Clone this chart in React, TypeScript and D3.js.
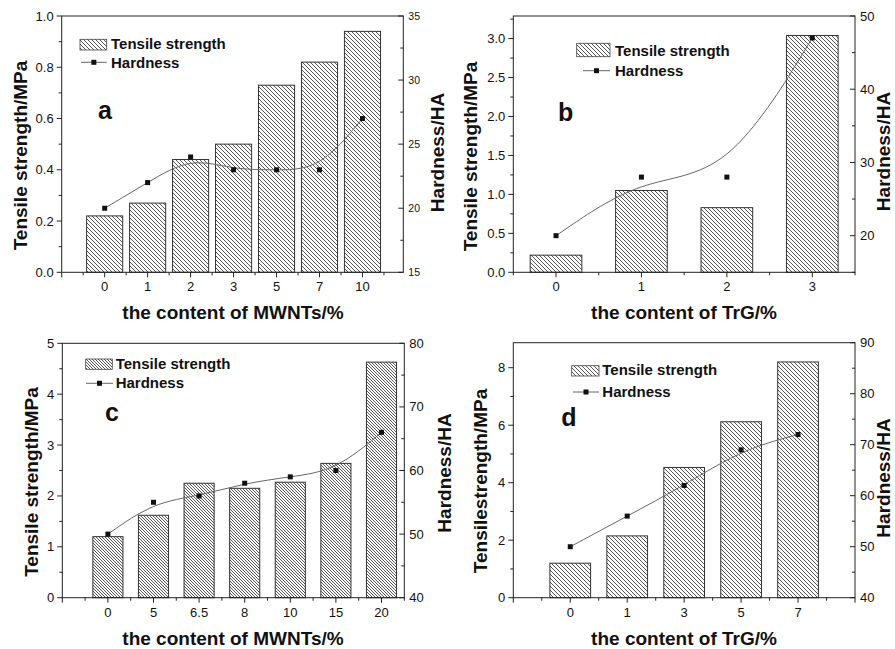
import React from "react";
import * as d3 from "d3";

// ---------------- data ----------------
const catsA = ["0", "1", "2", "3", "5", "7", "10"];
const tensileA = [0.22, 0.27, 0.44, 0.5, 0.73, 0.82, 0.94];
const hardnessA = [20, 22, 24, 23, 23, 23, 27];
const leftTicksA = [0, 0.2, 0.4, 0.6, 0.8, 1.0];
const rightTicksA = [15, 20, 25, 30, 35];

const catsB = ["0", "1", "2", "3"];
const tensileB = [0.22, 1.05, 0.83, 3.04];
const hardnessB = [20, 28, 28, 47];
const leftTicksB = [0, 0.5, 1.0, 1.5, 2.0, 2.5, 3.0];
const rightTicksB = [20, 30, 40, 50];

const catsC = ["0", "5", "6.5", "8", "10", "15", "20"];
const tensileC = [1.2, 1.62, 2.25, 2.15, 2.27, 2.64, 4.63];
const hardnessC = [50, 55, 56, 58, 59, 60, 66];
const leftTicksC = [0, 1, 2, 3, 4, 5];
const rightTicksC = [40, 50, 60, 70, 80];

const catsD = ["0", "1", "3", "5", "7"];
const tensileD = [1.2, 2.15, 4.53, 6.12, 8.2];
const hardnessD = [50, 56, 62, 69, 72];
const leftTicksD = [0, 2, 4, 6, 8];
const rightTicksD = [40, 50, 60, 70, 80, 90];

const FONT = "'Liberation Sans', Arial, Helvetica, sans-serif";
const AX = "#222";

type P = {
  id: string;
  cats: string[];
  tensile: number[];
  hardness: number[];
  leftTicks: number[];
  rightTicks: number[];
  leftFmt: string;
  left: number; right: number; top: number; bottom: number;
  xDom: [number, number];
  yLDom: [number, number];
  yRDom: [number, number];
  yLMinor: number;
  yRMinor: number;
  barFrac: number;
  hatch: number;
  rightFont: number;
  legend: { bx: number; by: number; bw: number; bh: number; tx: number; t1y: number; lx1: number; lx2: number; ly: number; t2y: number };
  letter: string; letterX: number; letterY: number;
  xTitle: string; xTitleX: number; xTitleY: number;
  yLTitle: string; yLTitleX: number; yLTitleY: number;
  yRTitleX: number; yRTitleY: number;
  xLabelY: number;
};

const panels: P[] = [
  {
    id: "a", cats: catsA, tensile: tensileA, hardness: hardnessA,
    leftTicks: leftTicksA, rightTicks: rightTicksA, leftFmt: ".1f",
    left: 61.7, right: 403.3, top: 16, bottom: 272.3,
    xDom: [-1, 6.95], yLDom: [0, 1], yRDom: [15, 35], yLMinor: 0.1, yRMinor: 2.5,
    barFrac: 0.84, hatch: 4, rightFont: 10.5,
    legend: { bx: 80, by: 39.3, bw: 26.7, bh: 10.7, tx: 111, t1y: 48.5, lx1: 81, lx2: 106.7, ly: 62.3, t2y: 67.5 },
    letter: "a", letterX: 105, letterY: 119,
    xTitle: "the content of MWNTs/%", xTitleX: 233, xTitleY: 318.5,
    yLTitle: "Tensile strength/MPa", yLTitleX: 20.5, yLTitleY: 155.5,
    yRTitleX: 437.5, yRTitleY: 152.5, xLabelY: 291,
  },
  {
    id: "b", cats: catsB, tensile: tensileB, hardness: hardnessB,
    leftTicks: leftTicksB, rightTicks: rightTicksB, leftFmt: ".1f",
    left: 513.3, right: 855, top: 16, bottom: 272.3,
    xDom: [-0.5, 3.5], yLDom: [0, 3.29], yRDom: [15, 50], yLMinor: 0.25, yRMinor: 5,
    barFrac: 0.605, hatch: 4, rightFont: 13,
    legend: { bx: 576.7, by: 43.3, bw: 33.3, bh: 13.4, tx: 615, t1y: 55.5, lx1: 583, lx2: 610, ly: 70.7, t2y: 75.5 },
    letter: "b", letterX: 565.7, letterY: 121,
    xTitle: "the content of TrG/%", xTitleX: 684, xTitleY: 319,
    yLTitle: "Tensile strength/MPa", yLTitleX: 470, yLTitleY: 156.5,
    yRTitleX: 883.5, yRTitleY: 151.5, xLabelY: 291,
  },
  {
    id: "c", cats: catsC, tensile: tensileC, hardness: hardnessC,
    leftTicks: leftTicksC, rightTicks: rightTicksC, leftFmt: "d",
    left: 62.3, right: 404.3, top: 343.3, bottom: 597.7,
    xDom: [-1, 6.5], yLDom: [0, 5], yRDom: [40, 80], yLMinor: 0.5, yRMinor: 5,
    barFrac: 0.66, hatch: 3, rightFont: 13,
    legend: { bx: 85.7, by: 359, bw: 26.6, bh: 10.3, tx: 115.7, t1y: 368.5, lx1: 86, lx2: 113, ly: 383.3, t2y: 387.8 },
    letter: "c", letterX: 112, letterY: 421,
    xTitle: "the content of MWNTs/%", xTitleX: 233, xTitleY: 645,
    yLTitle: "Tensile strength/MPa", yLTitleX: 31.7, yLTitleY: 482,
    yRTitleX: 444.5, yRTitleY: 473, xLabelY: 617,
  },
  {
    id: "d", cats: catsD, tensile: tensileD, hardness: hardnessD,
    leftTicks: leftTicksD, rightTicks: rightTicksD, leftFmt: "d",
    left: 513.3, right: 855, top: 342.7, bottom: 597.7,
    xDom: [-1, 5], yLDom: [0, 8.87], yRDom: [40, 90], yLMinor: 1, yRMinor: 5,
    barFrac: 0.715, hatch: 4, rightFont: 13,
    legend: { bx: 571.7, by: 365.7, bw: 27.3, bh: 10.3, tx: 602.3, t1y: 375, lx1: 573, lx2: 599, ly: 392, t2y: 396.7 },
    letter: "d", letterX: 569, letterY: 426,
    xTitle: "the content of TrG/%", xTitleX: 684, xTitleY: 645,
    yLTitle: "Tensilestrength/MPa", yLTitleX: 480.5, yLTitleY: 481,
    yRTitleX: 883.5, yRTitleY: 478, xLabelY: 617,
  },
];

function minorTicks(dom: [number, number], step: number, majors: number[]) {
  const out: number[] = [];
  const n = Math.floor((dom[1] - dom[0]) / step + 1e-6);
  for (let i = 0; i <= n; i++) {
    const v = +(dom[0] + i * step).toFixed(6);
    if (!majors.some((m) => Math.abs(m - v) < 1e-6)) out.push(v);
  }
  return out;
}

function Panel({ p }: { p: P }) {
  const x = d3.scaleLinear().domain(p.xDom).range([p.left, p.right]);
  const yL = d3.scaleLinear().domain(p.yLDom).range([p.bottom, p.top]);
  const yR = d3.scaleLinear().domain(p.yRDom).range([p.bottom, p.top]);
  const step = x(1) - x(0);
  const bw = step * p.barFrac;
  const fmt = d3.format(p.leftFmt);
  const hatchId = `hatch-${p.id}`;

  const xTicks: { v: number; major: boolean }[] = [];
  for (let v = Math.ceil(p.xDom[0] * 2) / 2; v <= p.xDom[1] + 1e-6; v += 0.5) {
    xTicks.push({ v, major: Math.abs(v - Math.round(v)) < 1e-6 });
  }
  const yLMin = minorTicks(p.yLDom, p.yLMinor, p.leftTicks);
  const yRMin = minorTicks(p.yRDom, p.yRMinor, p.rightTicks);

  const line = d3
    .line<number>()
    .x((_, i) => x(i))
    .y((d) => yR(d))
    .curve(d3.curveBasis);

  const L = p.legend;
  const lm = (L.lx1 + L.lx2) / 2;
  const h = p.hatch;

  return (
    <g>
      <defs>
        <pattern id={hatchId} patternUnits="userSpaceOnUse" width={h} height={h}>
          <rect width={h} height={h} fill="#fff" />
          {d3.range(h).map((k) => (
            <rect key={k} x={k} y={k} width={1} height={1} fill="#555" shapeRendering="crispEdges" />
          ))}
        </pattern>
      </defs>

      {/* bars */}
      {p.tensile.map((v, i) => (
        <rect
          key={i}
          x={x(i) - bw / 2}
          y={yL(v)}
          width={bw}
          height={yL(0) - yL(v)}
          fill={`url(#${hatchId})`}
          stroke="#333"
          strokeWidth={1}
        />
      ))}

      {/* frame */}
      <rect x={p.left} y={p.top} width={p.right - p.left} height={p.bottom - p.top} fill="none" stroke={AX} strokeWidth={1} />

      {/* x ticks */}
      {xTicks.map((t, i) => (
        <line key={i} x1={x(t.v)} x2={x(t.v)} y1={p.bottom} y2={p.bottom + (t.major ? 5 : 3)} stroke={AX} />
      ))}
      {p.cats.map((c, i) => (
        <text key={c + i} x={x(i)} y={p.xLabelY} fontSize={13} fontFamily={FONT} textAnchor="middle" fill="#111">
          {c}
        </text>
      ))}

      {/* left ticks */}
      {p.leftTicks.map((v) => (
        <g key={"l" + v}>
          <line x1={p.left - 5} x2={p.left} y1={yL(v)} y2={yL(v)} stroke={AX} />
          <text x={p.left - 8} y={yL(v)} dy="0.35em" fontSize={13} fontFamily={FONT} textAnchor="end" fill="#111">
            {fmt(v)}
          </text>
        </g>
      ))}
      {yLMin.map((v) => (
        <line key={"lm" + v} x1={p.left - 3} x2={p.left} y1={yL(v)} y2={yL(v)} stroke={AX} />
      ))}

      {/* right ticks (inward) */}
      {p.rightTicks.map((v) => (
        <g key={"r" + v}>
          <line x1={p.right - 5} x2={p.right} y1={yR(v)} y2={yR(v)} stroke={AX} />
          <text x={p.right + 5} y={yR(v)} dy="0.35em" fontSize={p.rightFont} fontFamily={FONT} textAnchor="start" fill="#111">
            {v}
          </text>
        </g>
      ))}
      {yRMin.map((v) => (
        <line key={"rm" + v} x1={p.right - 3} x2={p.right} y1={yR(v)} y2={yR(v)} stroke={AX} />
      ))}

      {/* hardness curve */}
      <path d={line(p.hardness) || ""} fill="none" stroke="#666" strokeWidth={1} />
      {p.hardness.map((v, i) => (
        <rect key={"m" + i} x={x(i) - 2.5} y={yR(v) - 2.5} width={5} height={5} fill="#111" />
      ))}

      {/* legend */}
      <rect x={L.bx} y={L.by} width={L.bw} height={L.bh} fill={`url(#${hatchId})`} stroke="#444" strokeWidth={0.8} />
      <text x={L.tx} y={L.t1y} fontSize={15} fontWeight="bold" fontFamily={FONT} fill="#111">
        Tensile strength
      </text>
      <line x1={L.lx1} x2={L.lx2} y1={L.ly} y2={L.ly} stroke="#666" strokeWidth={1} />
      <rect x={lm - 2.5} y={L.ly - 2.5} width={5} height={5} fill="#111" />
      <text x={L.tx} y={L.t2y} fontSize={15} fontWeight="bold" fontFamily={FONT} fill="#111">
        Hardness
      </text>

      {/* panel letter */}
      <text x={p.letterX} y={p.letterY} fontSize={25} fontWeight="bold" fontFamily={FONT} textAnchor="middle" fill="#111">
        {p.letter}
      </text>

      {/* titles */}
      <text x={p.xTitleX} y={p.xTitleY} fontSize={19} fontWeight="bold" fontFamily={FONT} textAnchor="middle" fill="#111">
        {p.xTitle}
      </text>
      <text
        transform={`translate(${p.yLTitleX},${p.yLTitleY}) rotate(-90)`}
        dy="0.35em"
        fontSize={19}
        fontWeight="bold"
        fontFamily={FONT}
        textAnchor="middle"
        fill="#111"
      >
        {p.yLTitle}
      </text>
      <text
        transform={`translate(${p.yRTitleX},${p.yRTitleY}) rotate(-90)`}
        dy="0.35em"
        fontSize={19}
        fontWeight="bold"
        fontFamily={FONT}
        textAnchor="middle"
        fill="#111"
      >
        Hardness/HA
      </text>
    </g>
  );
}

export default function App() {
  return (
    <svg
      width={895}
      height={649}
      viewBox="0 0 895 649"
      style={{ position: "absolute", left: 0, top: 0, background: "#fff" }}
    >
      <rect width={895} height={649} fill="#fff" />
      {panels.map((p) => (
        <Panel key={p.id} p={p} />
      ))}
    </svg>
  );
}
